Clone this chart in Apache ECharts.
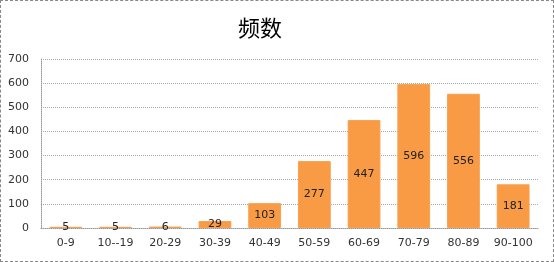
<!DOCTYPE html>
<html><head><meta charset="utf-8">
<script src="https://cdn.jsdelivr.net/npm/echarts@6/dist/echarts.min.js"></script>
<style>html,body{margin:0;padding:0;background:#fff}#c{width:554px;height:262px;box-sizing:border-box;border:1px dashed #888}</style>
</head><body><div id="c"></div>
<script>
const title = '频数';
const categories = ['0-9','10--19','20-29','30-39','40-49','50-59','60-69','70-79','80-89','90-100'];
const values = [5,5,6,29,103,277,447,596,556,181];
const yMin = 0, yMax = 700, yStep = 100;

const chart = echarts.init(document.getElementById('c'), null, {renderer:'canvas'});
chart.setOption({
  animation:false,
  backgroundColor:'#fff',
  title:{text:title,left:232,top:11,textStyle:{fontFamily:'Noto Sans CJK SC',fontSize:22,fontWeight:'normal',color:'#000'}},
  grid:{left:40,right:15,top:58,bottom:33},
  xAxis:{type:'category',data:categories,
    axisLine:{lineStyle:{color:'#999',type:'dotted'}},axisTick:{show:false},
    axisLabel:{color:'#333',fontSize:11,fontFamily:'DejaVu Sans',margin:10,interval:0}},
  yAxis:{type:'value',min:yMin,max:yMax,interval:yStep,
    axisLine:{show:true,lineStyle:{color:'#999',type:'dotted'}},axisTick:{show:false},
    splitLine:{lineStyle:{color:'#aaa',type:'dotted'}},
    axisLabel:{color:'#333',fontSize:11,fontFamily:'DejaVu Sans',margin:12}},
  series:[{type:'bar',data:values,barWidth:'66%',
    itemStyle:{color:'#F99A45',borderColor:'#F9A050',borderWidth:1},
    label:{show:true,position:'inside',color:'#222',fontSize:11,fontFamily:'DejaVu Sans'}}]
});
</script></body></html>
